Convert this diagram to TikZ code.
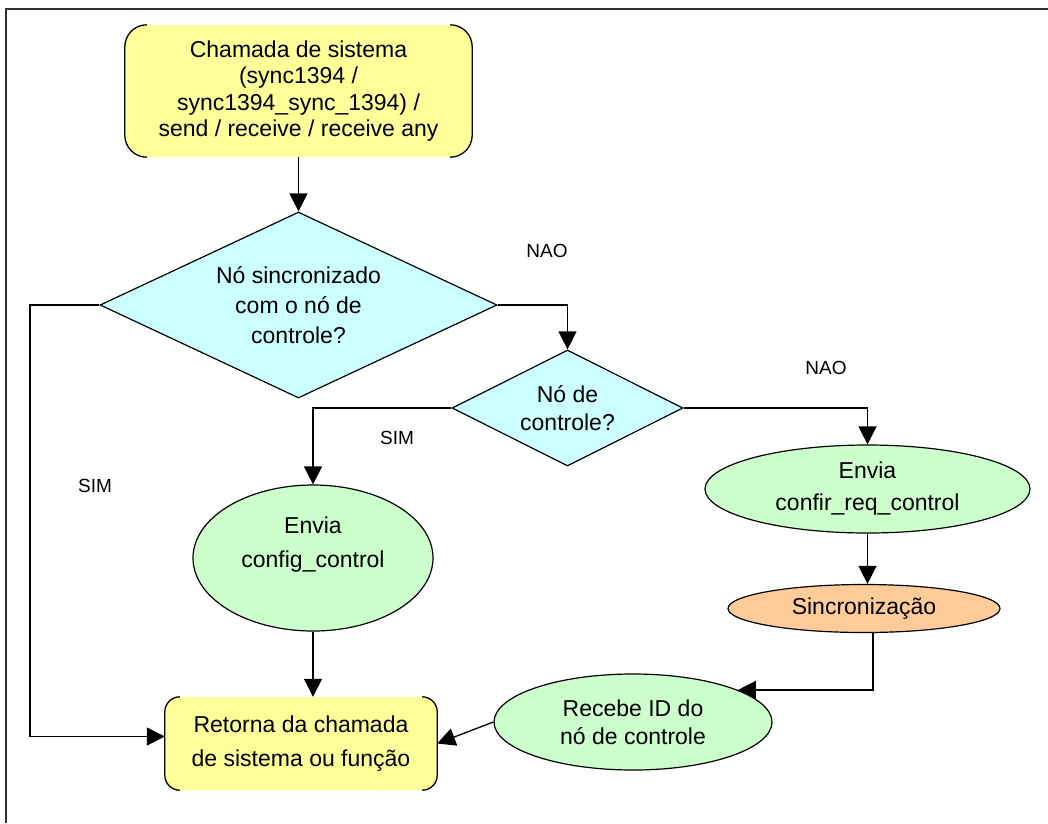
\documentclass[tikz,border=0pt]{standalone}
\usepackage{fontspec}
\setmainfont{Liberation Sans}
\usetikzlibrary{shapes.geometric,arrows.meta}
\definecolor{yfill}{HTML}{FFFF99}
\definecolor{cfill}{HTML}{CCFFFF}
\definecolor{gfill}{HTML}{CCFFCC}
\definecolor{ofill}{HTML}{FFCC99}
\begin{document}
\begin{tikzpicture}[x=1pt,y=-1pt,
  txt/.style={font=\fontsize{23}{28}\selectfont, align=center, inner sep=0pt},
  lbl/.style={font=\fontsize{19}{22}\selectfont, inner sep=0pt},
  bracketbox/.style={fill=yfill, rounded corners=#1, inner sep=0pt, align=center, font=\fontsize{23}{28}\selectfont},
  oval/.style={ellipse, draw, line width=1.2pt, inner sep=0pt, align=center, font=\fontsize{23}{28}\selectfont},
  dia/.style={diamond, draw, fill=cfill, line width=1.2pt, inner sep=0pt},
  conn/.style={line width=1.3pt, -{Triangle[length=18pt,width=18pt]}},
  plain/.style={line width=1.3pt}
]
\useasboundingbox (0,0) rectangle (1048,823);
\draw[line width=2pt, black!80] (6,823) -- (6,9) -- (1048,9);

% top box
\node[bracketbox=22pt, minimum width=347pt, minimum height=132pt] (top) at (298.5,91)
  {Chamada de sistema\\[-1.5pt](sync1394 /\\[-1.5pt]sync1394\_sync\_1394) /\\[-1.5pt]send / receive / receive any};
\draw[plain, rounded corners=22pt] ([xshift=22pt]top.north west) -- (top.north west) -- (top.south west) -- ([xshift=22pt]top.south west);
\draw[plain, rounded corners=22pt] ([xshift=-22pt]top.north east) -- (top.north east) -- (top.south east) -- ([xshift=-22pt]top.south east);

% diamonds
\node[dia, minimum width=397pt, minimum height=186pt] (d1) at (298.5,305) {};
\node[txt, font=\fontsize{23}{30}\selectfont] (d1t) at (d1.center) {Nó sincronizado\\com o nó de\\controle?};
\node[dia, minimum width=231pt, minimum height=116pt] (d2) at (567.5,408) {};
\node[txt] (d2t) at (d2.center) {Nó de\\controle?};

% ellipses
\node[oval, fill=gfill, minimum width=240pt, minimum height=146pt] (cfg) at (313,558) {};
\node[txt] (cfgt) at (313,545) {Envia\\[6pt]config\_control};
\node[oval, fill=gfill, minimum width=325pt, minimum height=88pt] (conf) at (867.5,489)
  {Envia\\[4pt]confir\_req\_control};
\node[oval, fill=ofill, minimum width=272pt, minimum height=48pt] (sinc) at (864,608.5)
  {Sincronização};
\node[oval, fill=gfill, minimum width=278pt, minimum height=96pt] (rec) at (633,722)
  {Recebe ID do\\nó de controle};

% return box
\node[bracketbox=15pt, minimum width=272pt, minimum height=93pt] (ret) at (301,743.5)
  {Retorna da chamada\\[6pt]de sistema ou função};
\draw[plain, rounded corners=15pt] ([xshift=15pt]ret.north west) -- (ret.north west) -- (ret.south west) -- ([xshift=15pt]ret.south west);
\draw[plain, rounded corners=15pt] ([xshift=-15pt]ret.north east) -- (ret.north east) -- (ret.south east) -- ([xshift=-15pt]ret.south east);

% labels
\node[lbl] (nao1) at (547,251) {NAO};
\node[lbl] (nao2) at (826,368) {NAO};
\node[lbl] (sim1) at (397,438) {SIM};
\node[lbl] (sim2) at (95,486) {SIM};

% connectors
\coordinate (c1) at (30,305);
\draw[conn] (top.south) -- (d1.north);
\draw[conn] (d1.west) -- (c1) |- ([yshift=7pt]ret.west);
\draw[conn] (d1.east) -| (d2.north);
\draw[conn] (d2.west) -| (cfg.north);
\draw[conn] (d2.east) -| (conf.north);
\draw[conn] (conf.south) -- (sinc.north -| conf.south);
\draw[conn] (cfg.south) -- (cfg.south |- ret.north);
\draw[conn] ([xshift=9pt]sinc.south) |- (rec.17);
\draw[conn] (rec.west) -- (ret.east);
\end{tikzpicture}
\end{document}
